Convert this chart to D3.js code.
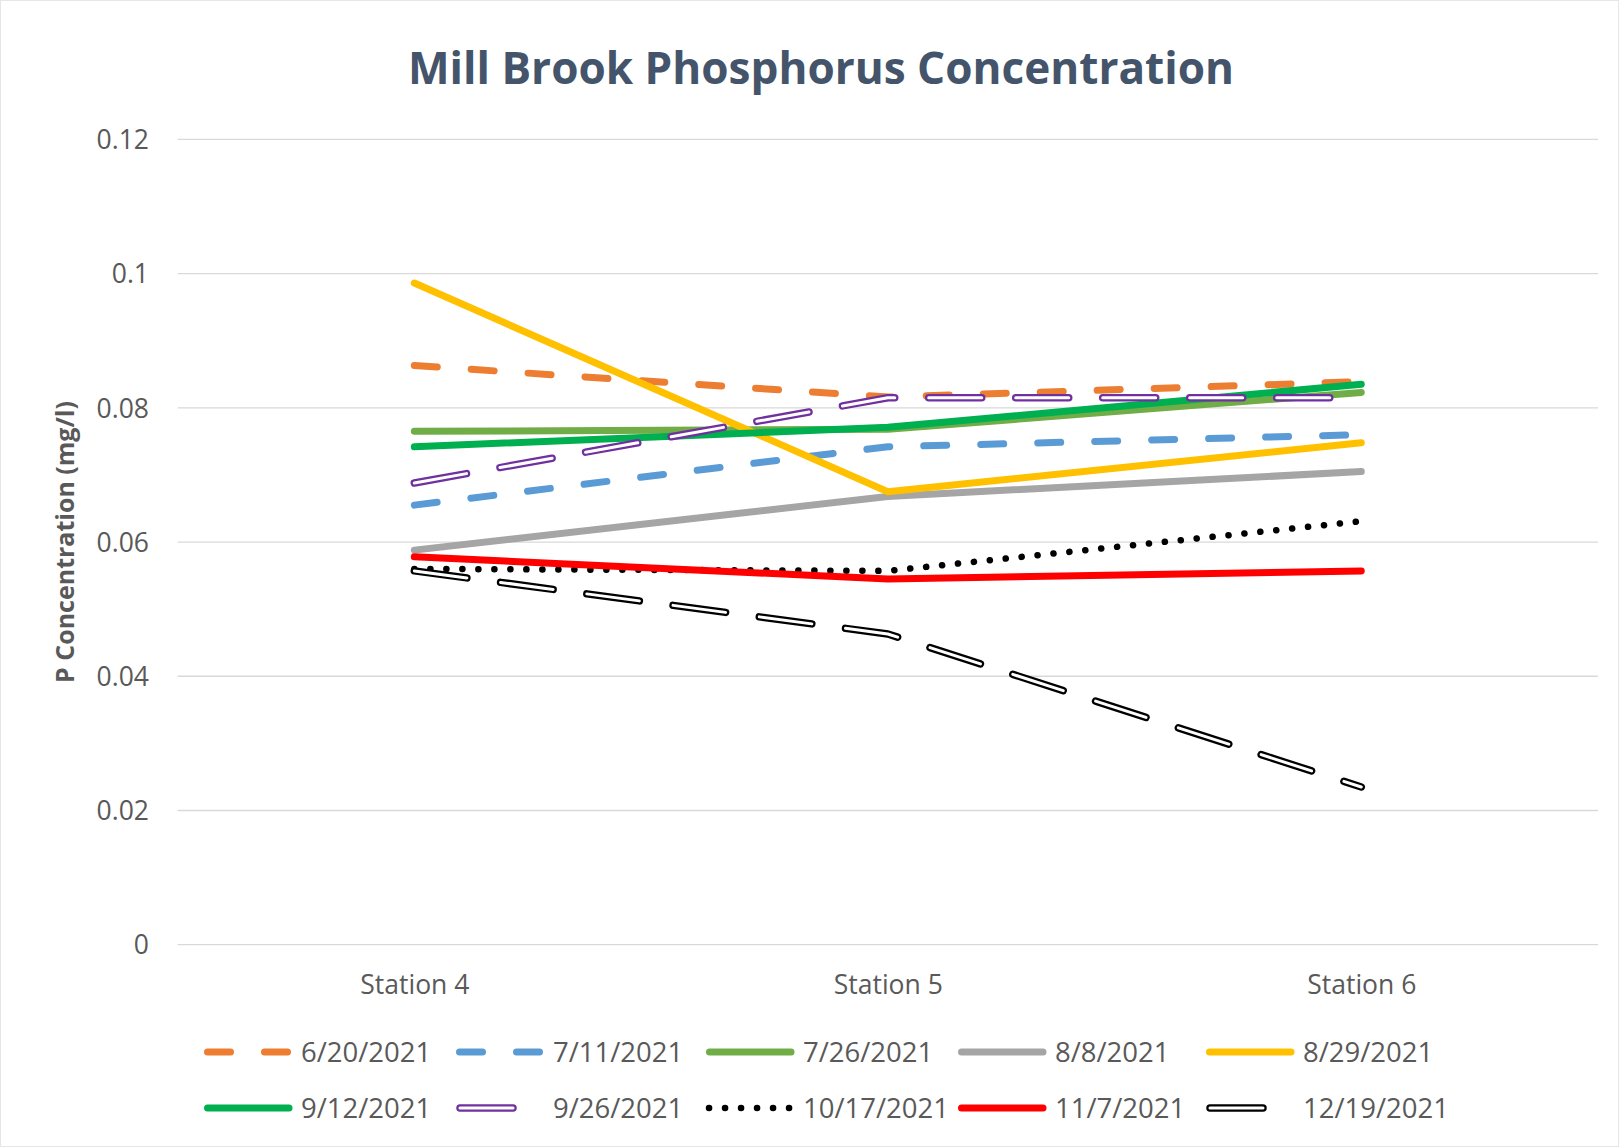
<!DOCTYPE html>
<html><head><meta charset="utf-8">
<script src="https://cdn.jsdelivr.net/npm/d3@7"></script>
<style>body{margin:0;background:#fff}svg{display:block}</style>
</head><body>
<script>
const stations = ["Station 4", "Station 5", "Station 6"];
const dates = ["6/20/2021","7/11/2021","7/26/2021","8/8/2021","8/29/2021","9/12/2021","9/26/2021","10/17/2021","11/7/2021","12/19/2021"];
const v0620 = [0.0863, 0.0816, 0.0839];
const v0711 = [0.0655, 0.0742, 0.0760];
const v0726 = [0.0765, 0.0768, 0.0823];
const v0808 = [0.0588, 0.0668, 0.0705];
const v0829 = [0.0986, 0.0675, 0.0748];
const v0912 = [0.0742, 0.0771, 0.0835];
const v0926 = [0.0688, 0.0815, 0.0815];
const v1017 = [0.0560, 0.0557, 0.0631];
const v1107 = [0.0578, 0.0545, 0.0557];
const v1219 = [0.0557, 0.0463, 0.0235];
const yTicks = [0, 0.02, 0.04, 0.06, 0.08, 0.1, 0.12];
const yTickLabels = ["0","0.02","0.04","0.06","0.08","0.1","0.12"];

const seriesValues = [v0620,v0711,v0726,v0808,v0829,v0912,v0926,v1017,v1107,v1219];
const styles = [
  {c:"#ED7D31", k:"dash"},
  {c:"#5B9BD5", k:"dash"},
  {c:"#70AD47", k:"solid"},
  {c:"#A5A5A5", k:"solid"},
  {c:"#FFC000", k:"solid"},
  {c:"#00B050", k:"solid"},
  {c:"#7030A0", k:"double"},
  {c:"#000000", k:"dot"},
  {c:"#FF0000", k:"solid"},
  {c:"#000000", k:"double"}
];

const W = 1619, H = 1147;
const svg = d3.select("body").append("svg").attr("width", W).attr("height", H);
svg.append("rect").attr("x",0.5).attr("y",0.5).attr("width",W-1).attr("height",H-1).attr("fill","#fff").attr("stroke","#e6e6e6");

const x = d3.scalePoint().domain(stations).range([177.6, 1598]).padding(0.5);
const y = d3.scaleLinear().domain([0, 0.12]).range([944.7, 139.4]);

const textCol = "#595959";
const fontFam = "'Open Sans', sans-serif";

svg.append("g").selectAll("line").data(yTicks).join("line")
  .attr("x1", 177.6).attr("x2", 1598)
  .attr("y1", d => y(d)).attr("y2", d => y(d))
  .attr("stroke", "#d9d9d9").attr("stroke-width", 1.3);

const yAxis = d3.axisLeft(y).tickValues(yTicks).tickFormat((d,i) => yTickLabels[i]).tickSize(0).tickPadding(0);
const gy = svg.append("g").attr("transform", "translate(149,0)").call(yAxis);
gy.select(".domain").remove();
gy.selectAll("text").attr("font-family", fontFam).attr("font-size", 26.5).attr("fill", textCol).attr("dy","0.35em");

const xAxis = d3.axisBottom(x).tickSize(0).tickPadding(0);
const gx = svg.append("g").attr("transform", "translate(0,985)").call(xAxis);
gx.select(".domain").remove();
gx.selectAll("text").attr("font-family", fontFam).attr("font-size", 26.5).attr("fill", textCol).attr("dy","0.35em");

const title = svg.append("text").attr("x", 821).attr("y", 84).attr("text-anchor","middle")
  .attr("font-family", fontFam).attr("font-weight", 700).attr("font-size", 48).attr("fill","#44546A")
  .text("Mill Brook Phosphorus Concentration");
{ const w = title.node().getComputedTextLength(); title.attr("font-size", 48*826/w); }

const yt = svg.append("text").attr("transform","translate(74,542) rotate(-90)").attr("text-anchor","middle")
  .attr("font-family", fontFam).attr("font-weight", 700).attr("font-size", 22).attr("fill", textCol)
  .text("P Concentration (mg/l)");
{ const w = yt.node().getComputedTextLength(); yt.attr("font-size", 22*282/w); }

function drawStyled(g, pathD, st) {
  if (st.k === "solid") {
    g.append("path").attr("d", pathD).attr("fill","none").attr("stroke", st.c).attr("stroke-width", 7)
      .attr("stroke-linecap","round").attr("stroke-linejoin","round");
  } else if (st.k === "dash") {
    g.append("path").attr("d", pathD).attr("fill","none").attr("stroke", st.c).attr("stroke-width", 7)
      .attr("stroke-linecap","round").attr("stroke-linejoin","round").attr("stroke-dasharray","23,34");
  } else if (st.k === "dot") {
    g.append("path").attr("d", pathD).attr("fill","none").attr("stroke", st.c).attr("stroke-width", 6.5)
      .attr("stroke-linecap","round").attr("stroke-linejoin","round").attr("stroke-dasharray","0.1,15.9");
  } else if (st.k === "double") {
    g.append("path").attr("d", pathD).attr("fill","none").attr("stroke", st.c).attr("stroke-width", 7.5)
      .attr("stroke-linecap","round").attr("stroke-linejoin","round").attr("stroke-dasharray","53,34");
    g.append("path").attr("d", pathD).attr("fill","none").attr("stroke", "#fff").attr("stroke-width", 3)
      .attr("stroke-linecap","round").attr("stroke-linejoin","round").attr("stroke-dasharray","53,34");
  }
}

const line = d3.line().x((d,i) => x(stations[i])).y(d => y(d));
const gl = svg.append("g");
seriesValues.forEach((vals, i) => {
  drawStyled(gl.append("g"), line(vals), styles[i]);
});

const legX = [204, 456, 706, 958, 1206];
const legY = [1052, 1108];
const lg = svg.append("g");
dates.forEach((d, i) => {
  const col = i % 5, row = Math.floor(i / 5);
  const x0 = legX[col], yy = legY[row];
  const st = styles[i];
  const g = lg.append("g");
  let x1 = x0 + 3.5, x2 = x0 + 85;
  if (st.k === "double") { x1 = x0 + 4; x2 = x0 + 57; }
  if (st.k === "dot") { x1 = x0 + 3; x2 = x0 + 84; }
  drawStyled(g, `M${x1},${yy}L${x2},${yy}`, st);
  g.append("text").attr("x", x0 + 97).attr("y", yy).attr("dy","0.35em")
    .attr("font-family", fontFam).attr("font-size", 27.5).attr("fill", textCol).text(d);
});
</script>
</body></html>
